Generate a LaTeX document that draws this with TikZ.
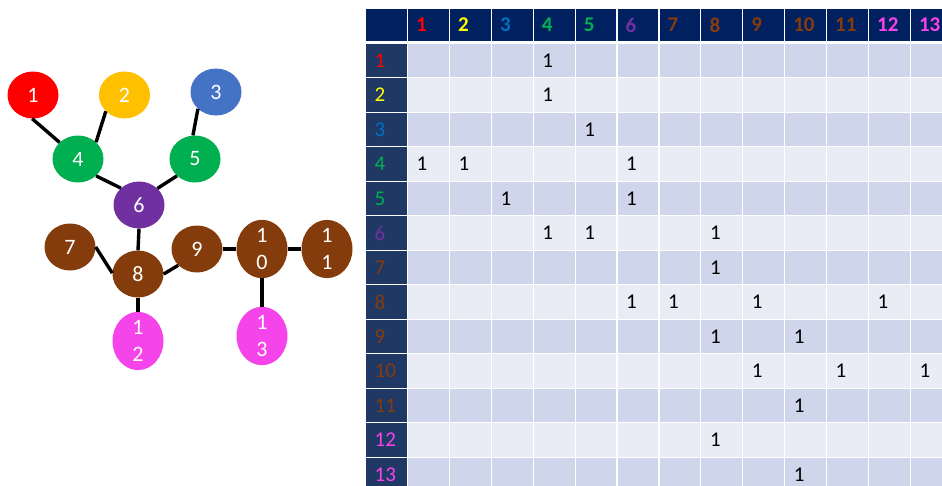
\documentclass[tikz,border=0pt]{standalone}
\usepackage{fontspec}
\setmainfont{Carlito}
\usetikzlibrary{shapes.geometric}
\definecolor{nred}{HTML}{FF0000}
\definecolor{nyel}{HTML}{FFFF00}
\definecolor{norange}{HTML}{FFC000}
\definecolor{nblue}{HTML}{0070C0}
\definecolor{nblue2}{HTML}{4472C4}
\definecolor{ngreen}{HTML}{00B050}
\definecolor{npurp}{HTML}{7030A0}
\definecolor{nbrown}{HTML}{843C0C}
\definecolor{npink}{HTML}{F544EA}
\definecolor{hdrblue}{HTML}{002060}
\definecolor{rowhdr}{HTML}{203864}
\definecolor{rowodd}{HTML}{CFD5EA}
\definecolor{roweven}{HTML}{E9EBF5}
\tikzset{
  gnode/.style={ellipse, minimum width=51pt, minimum height=47pt, inner sep=0pt,
    text=white, font=\fontsize{22}{27}\selectfont, align=center},
  edge/.style={line width=3.4pt, black},
  cell/.style={anchor=west, inner sep=0pt, font=\fontsize{21}{24}\selectfont},
  hdrtext/.style={cell, font=\fontsize{21}{24}\selectfont\bfseries},
}
\begin{document}
\begin{tikzpicture}[x=1pt,y=-1pt]
\useasboundingbox (0,0) rectangle (942,485);
% ---------- graph ----------
\node[gnode, fill=nred]    (n1)  at (33,95)   {1};
\node[gnode, fill=norange] (n2)  at (124.5,95) {2};
\node[gnode, fill=nblue2]  (n3)  at (216,92)  {3};
\node[gnode, fill=ngreen]  (n4)  at (78,159)  {4};
\node[gnode, fill=ngreen]  (n5)  at (195,159) {5};
\node[gnode, fill=npurp]   (n6)  at (139,205) {6};
\node[gnode, fill=nbrown]  (n7)  at (70,247)  {7};
\node[gnode, fill=nbrown]  (n8)  at (138,274) {8};
\node[gnode, fill=nbrown]  (n9)  at (197,249) {9};
\node[gnode, fill=nbrown]  (n10) at (262,249) {1\\0};
\node[gnode, fill=nbrown]  (n11) at (327,249) {1\\1};
\node[gnode, fill=npink]   (n12) at (138,341) {1\\2};
\node[gnode, fill=npink]   (n13) at (262,336) {1\\3};
\draw[edge] (n1.268) -- (n4.138);
\draw[edge] (n2.221) -- (n4.43);
\draw[edge] (n3.223) -- (n5.95);
\draw[edge] (n4.317) -- (n6.137);
\draw[edge] (n5.223) -- (n6.42);
\draw[edge] (n6.south) -- (n8.north);
\draw[edge] (n7.east) -- (n8.178);
\draw[edge] (n8.east) -- (n9.221);
\draw[edge] (n9.east) -- (n10.west);
\draw[edge] (n10.east) -- (n11.west);
\draw[edge] (n10.south) -- (n13.north);
\draw[edge] (n8.south) -- (n12.north);
% ---------- table ----------
\fill[hdrblue] (365.5,9) rectangle (407,41);
\foreach \c/\cl in {1/nred,2/nyel,3/nblue,4/ngreen,5/ngreen,6/npurp,7/nbrown,8/nbrown,9/nbrown,10/nbrown,11/nbrown,12/npink,13/npink}{
  \pgfmathsetmacro\L{407.5+(\c-1)*41.9}
  \fill[hdrblue] ({\L+0.6},9) rectangle ({\L+41.3},41);
  \node[hdrtext, text=\cl] (h\c) at ({\L+8.5},25) {\c};
  \foreach \r in {1,...,13}{
    \pgfmathsetmacro\T{43.3+(\r-1)*34.5}
    \pgfmathtruncatemacro\odd{mod(\r,2)}
    \ifnum\odd=1 \def\fc{rowodd}\else\def\fc{roweven}\fi
    \fill[\fc] ({\L+0.6},{\T+0.6}) rectangle ({\L+41.3},{\T+33.9});
  }
}
\foreach \r/\cl in {1/nred,2/nyel,3/nblue,4/ngreen,5/ngreen,6/npurp,7/nbrown,8/nbrown,9/nbrown,10/nbrown,11/nbrown,12/npink,13/npink}{
  \pgfmathsetmacro\T{43.3+(\r-1)*34.5}
  \fill[rowhdr] (365.5,{\T+0.6}) rectangle (406.9,{\T+33.9});
  \node[cell, text=\cl] (r\r) at (374.5,{\T+17.25}) {\r};
}
\foreach \r/\c in {1/4,2/4,3/5,4/1,4/2,4/6,5/3,5/6,6/4,6/5,6/8,7/8,8/6,8/7,8/9,8/12,9/8,9/10,10/9,10/11,10/13,11/10,12/8,13/10}{
  \node[cell] (e\r x\c) at ({407.5+(\c-1)*41.9+9},{43.3+(\r-1)*34.5+17.25}) {1};
}
\end{tikzpicture}
\end{document}
